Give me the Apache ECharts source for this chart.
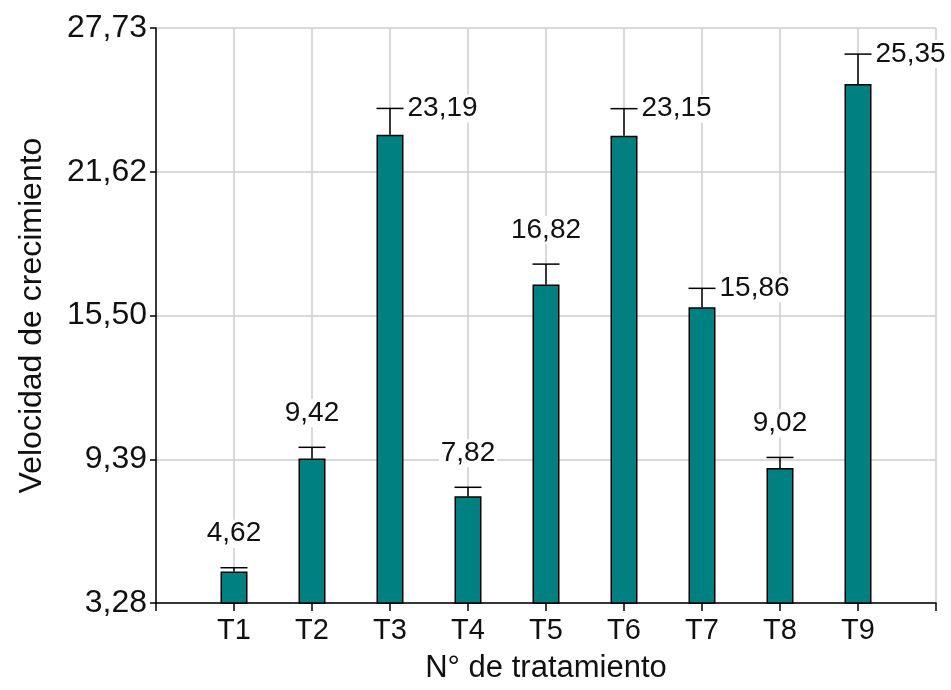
<!DOCTYPE html>
<html>
<head>
<meta charset="utf-8">
<script src="https://cdn.jsdelivr.net/npm/echarts@6/dist/echarts.min.js"></script>
<style>
  html, body { margin: 0; padding: 0; background: #ffffff; }
  #chart { width: 951px; height: 690px; }
</style>
</head>
<body>
<div id="chart"></div>
<script>
// Growth rate per treatment, with the upper error (standard error) of each mean
const treatments = ['T1', 'T2', 'T3', 'T4', 'T5', 'T6', 'T7', 'T8', 'T9'];
const growthRate = [4.62, 9.42, 23.19, 7.82, 16.82, 23.15, 15.86, 9.02, 25.35];
const errorUp = [0.16, 0.48, 1.12, 0.38, 0.87, 1.15, 0.80, 0.45, 1.27];
const yTickValues = [3.28, 9.39, 15.50, 21.62, 27.73];
const yTickLabels = ['3,28', '9,39', '15,50', '21,62', '27,73'];

// Where each value label sits relative to its error-bar cap
const labelSide = ['top', 'top', 'right', 'top', 'top', 'right', 'right', 'top', 'right'];

const FONT = '"Liberation Sans", Arial, sans-serif';
const TEXT = '#111111';
const BAR_W = 27;

// Empty slots at both ends so the treatments sit on interior grid lines
const xCats = [''].concat(treatments, ['']);
const barData = xCats.map((c, i) => (i === 0 || i === xCats.length - 1) ? '-' : growthRate[i - 1]);
const errData = treatments.map((t, i) => [i + 1, growthRate[i], errorUp[i], i]);

const yMin = yTickValues[0];
const yMax = yTickValues[yTickValues.length - 1];
const yStep = (yMax - yMin) / (yTickValues.length - 1);

const fmt = v => v.toFixed(2).replace('.', ',');

const chart = echarts.init(document.getElementById('chart'), null, { renderer: 'canvas' });

chart.setOption({
  animation: false,
  backgroundColor: '#ffffff',
  grid: { left: 156, right: 15, top: 28, bottom: 87, containLabel: false },
  xAxis: {
    type: 'category',
    data: xCats,
    boundaryGap: false,
    name: 'N° de tratamiento',
    nameLocation: 'middle',
    nameGap: 50,
    nameTextStyle: { fontFamily: FONT, fontSize: 31, color: TEXT },
    axisLine: { lineStyle: { color: '#000000', width: 1.5 } },
    axisTick: { show: true, interval: 0, length: 8, lineStyle: { color: '#000000', width: 1.5 } },
    axisLabel: { interval: 0, margin: 13, fontFamily: FONT, fontSize: 29, color: TEXT },
    splitLine: { show: true, interval: 0, lineStyle: { color: '#cccccc', width: 1.5 } }
  },
  yAxis: {
    type: 'value',
    min: yMin,
    max: yMax,
    interval: yStep,
    name: 'Velocidad de crecimiento',
    nameLocation: 'middle',
    nameGap: 108,
    nameTextStyle: { fontFamily: FONT, fontSize: 32, color: TEXT },
    axisLine: { show: true, lineStyle: { color: '#000000', width: 1.5 } },
    axisTick: { show: true, length: 6, lineStyle: { color: '#000000', width: 1.5 } },
    axisLabel: {
      margin: 9,
      fontFamily: FONT,
      fontSize: 32,
      color: TEXT,
      formatter: (v, idx) => yTickLabels[idx] !== undefined ? yTickLabels[idx] : fmt(v)
    },
    splitLine: { show: true, lineStyle: { color: '#cccccc', width: 1.5 } }
  },
  series: [
    {
      type: 'bar',
      data: barData,
      barWidth: BAR_W,
      itemStyle: { color: '#008080', borderColor: '#000000', borderWidth: 1.5 },
      z: 3
    },
    {
      type: 'custom',
      data: errData,
      z: 5,
      renderItem: (params, api) => {
        const x = api.value(0);
        const v = api.value(1);
        const e = api.value(2);
        const idx = api.value(3);
        const base = api.coord([x, v]);
        const top = api.coord([x, v + e]);
        const half = BAR_W / 2;
        const side = labelSide[idx];
        const text = fmt(growthRate[idx]);
        const label = side === 'right'
          ? { x: top[0] + half + 2, y: top[1], align: 'left' }
          : { x: top[0], y: top[1] - 34, align: 'center' };
        return {
          type: 'group',
          children: [
            {
              type: 'line',
              shape: { x1: base[0], y1: base[1], x2: top[0], y2: top[1] },
              style: { stroke: '#000000', lineWidth: 1.5 }
            },
            {
              type: 'line',
              shape: { x1: top[0] - half, y1: top[1], x2: top[0] + half, y2: top[1] },
              style: { stroke: '#000000', lineWidth: 1.5 }
            },
            {
              type: 'text',
              x: label.x,
              y: label.y,
              style: {
                text: text,
                fontFamily: FONT,
                fontSize: 28,
                fill: TEXT,
                align: label.align,
                verticalAlign: 'middle',
                backgroundColor: '#ffffff',
                padding: [0, 2, 0, 2]
              }
            }
          ]
        };
      }
    }
  ]
});
</script>
</body>
</html>
